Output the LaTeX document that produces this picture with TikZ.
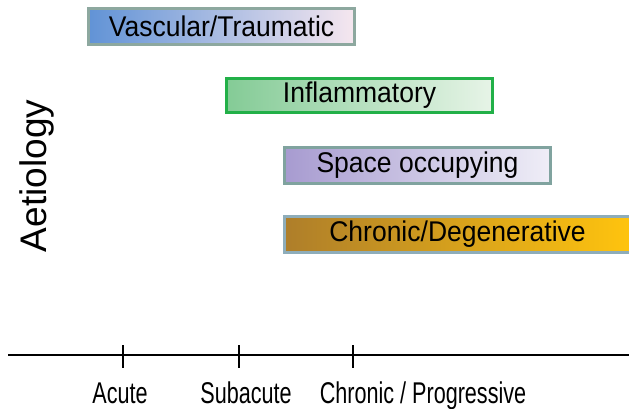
\documentclass[tikz,border=0pt]{standalone}
\usepackage{fontspec}
\setmainfont{Liberation Sans}
\newfontfamily\narrowfont[FakeStretch=0.72]{Liberation Sans}
\newfontfamily\boxfont[FakeStretch=0.93]{Liberation Sans}
\usepackage{tikz}

\definecolor{vascL}{HTML}{6193D6}
\definecolor{vascM}{HTML}{A9CDEF}
\definecolor{vascR}{HTML}{F6E7EF}
\definecolor{vascB}{HTML}{8DA89F}
\definecolor{inflL}{HTML}{84CB96}
\definecolor{inflR}{HTML}{E7F4E7}
\definecolor{inflB}{HTML}{22B048}
\definecolor{spaceL}{HTML}{A79BD0}
\definecolor{spaceR}{HTML}{EFEEF7}
\definecolor{spaceB}{HTML}{80A39F}
\definecolor{chronL}{HTML}{AE7E2A}
\definecolor{chronM}{HTML}{EDB01C}
\definecolor{chronR}{HTML}{FFC40E}
\definecolor{chronB}{HTML}{8EADBA}

\begin{document}
\begin{tikzpicture}[x=1pt,y=-1pt,
    causebox/.style={rectangle,draw,line width=3pt,minimum height=36pt,
      inner sep=0pt,font=\boxfont\fontsize{28.5}{30}\selectfont},
    ticklabel/.style={anchor=base,font=\narrowfont\fontsize{30}{32}\selectfont}]
      \useasboundingbox (0,0) rectangle (629,409);
      % aetiology boxes
      \node [causebox,draw=vascB,left color=vascL,middle color=vascM,right color=vascR,
        minimum width=266pt] (vasc) at (221.5,26.5) {Vascular/Traumatic};
      \node [causebox,draw=inflB,left color=inflL,right color=inflR,
        minimum width=266pt,minimum height=34pt] (infl) at (359.5,95.5) {Inflammatory};
      \node [causebox,draw=spaceB,left color=spaceL,right color=spaceR,
        minimum width=266pt] (space) at (417.5,165.5) {Space occupying};
      \node [causebox,draw=chronB,left color=chronL,middle color=chronM,right color=chronR,
        minimum width=346pt] (chron) at (457.5,234.5) {Chronic/Degenerative};
      \node [rotate=90,font=\fontsize{37}{40}\selectfont] (aet) at (37,176) {Aetiology};
      % time axis
      \coordinate (axl) at (8,355);
      \coordinate (axr) at (629,355);
      \draw [line width=1.2pt] (axl) -- (axr);
      \coordinate (acute) at (123,355);
      \coordinate (subac) at (239,355);
      \coordinate (chrpr) at (353,355);
      \draw [line width=1.2pt] ([yshift=10pt]acute) -- ([yshift=-13pt]acute);
      \draw [line width=1.2pt] ([yshift=10pt]subac) -- ([yshift=-13pt]subac);
      \draw [line width=1.2pt] ([yshift=10pt]chrpr) -- ([yshift=-13pt]chrpr);
      \node [ticklabel] (lacute) at (120,403) {Acute};
      \node [ticklabel] (lsubac) at (246,403) {Subacute};
      \node [ticklabel] (lchrpr) at (423,403) {Chronic / Progressive};
    \end{tikzpicture}
\end{document}
